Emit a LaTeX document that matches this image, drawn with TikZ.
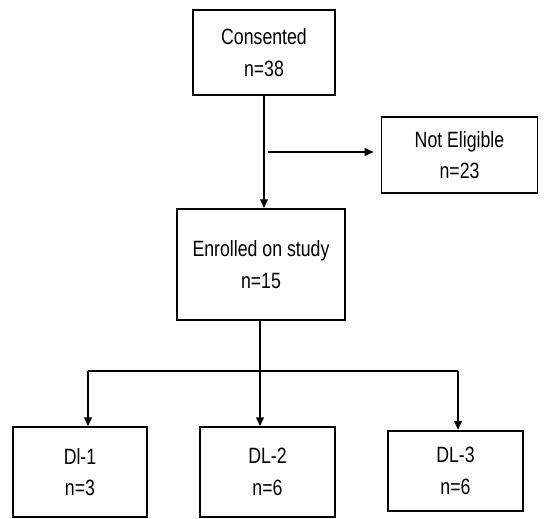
\documentclass[tikz,border=0pt]{standalone}
\usepackage{fontspec}
\setmainfont{Liberation Sans}[FakeStretch=0.8]
\usetikzlibrary{arrows.meta, positioning, calc}

\begin{document}
\begin{tikzpicture}[
  x=0.02cm, y=-0.02cm,
  box/.style={draw, line width=1.1pt, align=center, inner sep=0pt,
  font=\fontsize{12.6}{18}\selectfont},
  arr/.style={-{Triangle[length=5pt, width=4.4pt]}, line width=0.9pt},
  ln/.style={line width=0.9pt}
]
\useasboundingbox (0,0) rectangle (550,519);
\node[box, minimum width=2.84cm, minimum height=1.7cm] (cons) at (264,52.5) {Consented\\n=38};
\node[box, minimum width=3.12cm, minimum height=1.52cm] (nelig) at (459.5,155) {Not Eligible\\n=23};
\node[box, minimum width=3.36cm, minimum height=2.22cm] (enr) at (261,264.5) {Enrolled on study\\n=15};
\node[box, minimum width=2.68cm, minimum height=1.8cm] (dl1) at (80,472) {Dl-1\\n=3};
\node[box, minimum width=2.7cm, minimum height=1.8cm] (dl2) at (267.5,472) {DL-2\\n=6};
\node[box, minimum width=2.69cm, minimum height=1.61cm] (dl3) at (455.5,471) {DL-3\\n=6};
% exclusion branch
\coordinate (mid) at ($(cons.south)!0.5!(cons.south |- enr.north)$);
\draw[arr] (cons.south) -- (cons.south |- enr.north);
\draw[arr, shorten <=2pt, shorten >=4pt] (mid) -- (nelig.west |- mid);
% dose levels
\coordinate (split) at (260,371);
\coordinate (jl) at (88,371);
\coordinate (jr) at (458,371);
\draw[ln] (split |- enr.south) -- (split);
\draw[ln] (jl) -- (jr);
\draw[arr] (jl) -- (jl |- dl1.north);
\draw[arr] (split) -- (split |- dl2.north);
\draw[arr] (jr) -- (jr |- dl3.north);
\end{tikzpicture}
\end{document}
